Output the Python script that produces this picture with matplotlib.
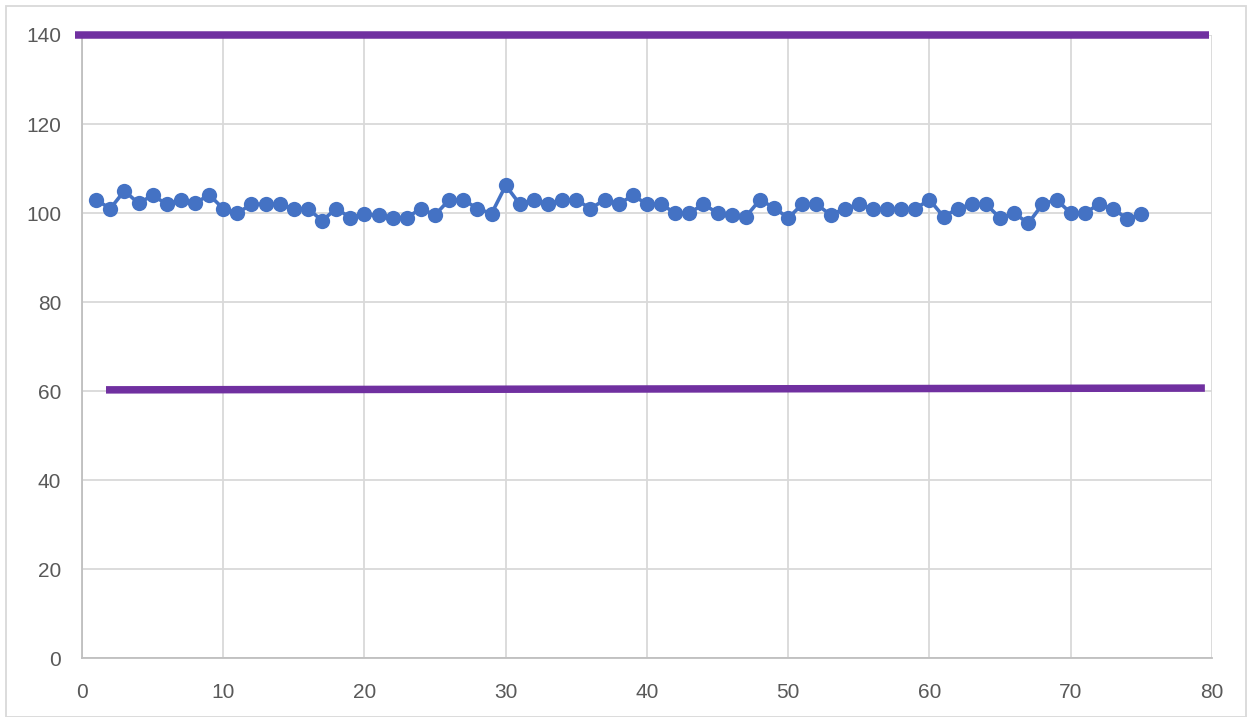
import matplotlib.pyplot as plt
from matplotlib.patches import Rectangle

# measurement series
sample = list(range(1, 76))
value = [103, 101, 105, 102.2, 104, 102, 103, 102.2, 104.1, 101,
         100, 102, 102, 102, 101, 101, 98.3, 101, 99, 99.7,
         99.5, 99, 99, 101, 99.6, 103, 103, 101, 99.9, 106.2,
         102, 103, 102, 103, 103, 101, 103, 102, 104, 102,
         102, 100, 100, 102, 100, 99.5, 99.2, 103, 101.2, 98.9,
         102, 102, 99.6, 101, 102, 101, 101, 101, 101, 103,
         99.2, 101, 102, 102, 98.9, 100, 97.7, 102, 103, 100,
         100, 102, 101, 98.7, 99.8]

# control limits
upper_x = [-0.5, 79.8]
upper_y = [140, 140]
lower_x = [1.7, 79.5]
lower_y = [60.3, 60.7]

xticks = list(range(0, 81, 10))
yticks = list(range(0, 141, 20))

plt.rcParams['font.family'] = ['Liberation Sans', 'DejaVu Sans']

fig = plt.figure(figsize=(12.52, 7.17), dpi=100)
ax = fig.add_axes([0.0655, 0.0818, 0.9025, 0.8694])

grid_c = '#d9d9d9'
ax.set_xlim(0, 80)
ax.set_ylim(0, 140)
ax.set_xticks(xticks)
ax.set_yticks(yticks)
ax.grid(True, color=grid_c, linewidth=1.3, zorder=0)
ax.set_axisbelow(True)
for side in ['top', 'right']:
    ax.spines[side].set_visible(False)
for side in ['left', 'bottom']:
    ax.spines[side].set_color('#bfbfbf')
    ax.spines[side].set_linewidth(1.3)
ax.tick_params(length=0, labelsize=15, labelcolor='#595959')
ax.tick_params(axis='y', pad=15)
ax.tick_params(axis='x', pad=18)

ax.plot(upper_x, upper_y, color='#7030A0', linewidth=5.4,
        solid_capstyle='butt', clip_on=False, zorder=3)
ax.plot(lower_x, lower_y, color='#7030A0', linewidth=5.4,
        solid_capstyle='butt', clip_on=False, zorder=3)

ax.plot(sample, value, color='#4472C4', linewidth=2.6, marker='o',
        markersize=11, markeredgewidth=0, zorder=4)

# chart border
fig.patches.append(Rectangle((0.005, 0.0), 0.99, 0.992, transform=fig.transFigure,
                             fill=False, edgecolor=grid_c, linewidth=1.3))

fig.savefig('out.png', dpi=100)
